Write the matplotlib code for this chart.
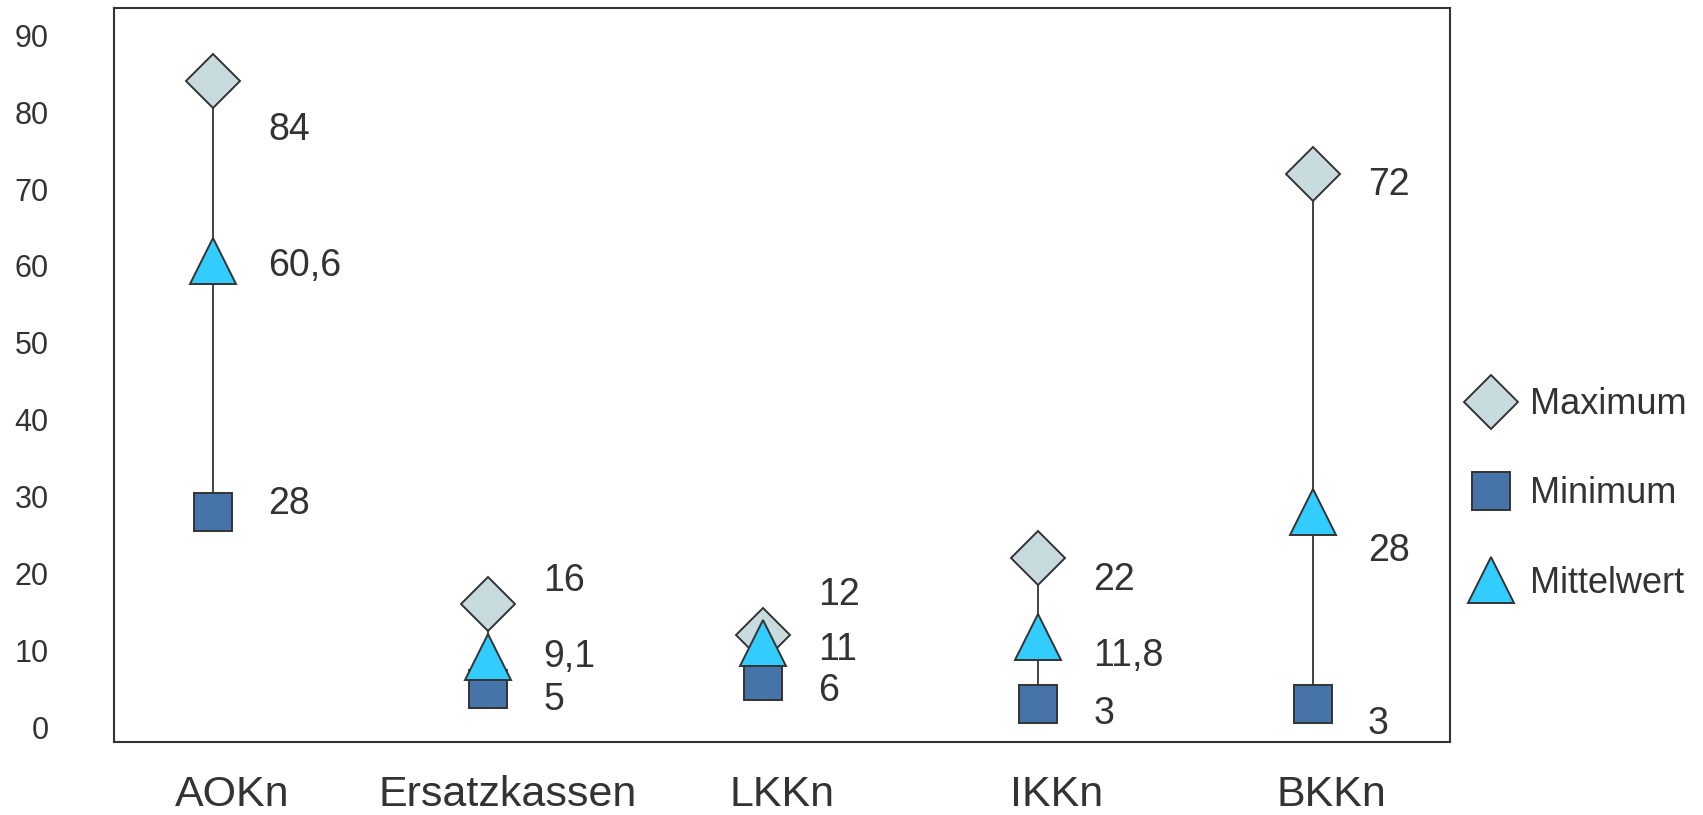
import matplotlib
matplotlib.use("Agg")
import matplotlib.pyplot as plt
from matplotlib.lines import Line2D

plt.rcParams["font.family"] = ["Liberation Sans", "DejaVu Sans"]

categories = ["AOKn", "Ersatzkassen", "LKKn", "IKKn", "BKKn"]
maximum = [84, 16, 12, 22, 72]
minimum = [28, 5, 6, 3, 3]
mittelwert = [60.6, 9.1, 11, 11.8, 28]

# vertical nudges (points) for the value labels, as placed in the original
nudge_max = [-35, 17, 29, -16, -8]
nudge_avg = [-3, 0, -5, -14, -28]
nudge_min = [6, -8, -7, -7, -14]

TXT = "#333333"
EDGE = "#333333"
C_MAX, C_MIN, C_AVG = "#C8DCE0", "#4673A8", "#33CCFF"


def fmt(v):
    return f"{v:g}".replace(".", ",")


fig = plt.figure(figsize=(17.03, 8.15), dpi=100)
ax = fig.add_axes([0.067, 0.0896, 0.7844, 0.9011])

x = [i - 0.07 for i in range(len(categories))]
ax.vlines(x, minimum, maximum, color=EDGE, lw=1.3, zorder=2)
ax.plot(x, maximum, "D", ms=28, mfc=C_MAX, mec=EDGE, mew=1.4, ls="none", zorder=3)
ax.plot(x, minimum, "s", ms=28, mfc=C_MIN, mec=EDGE, mew=1.4, ls="none", zorder=3)
ax.plot(x, mittelwert, "^", ms=33, mfc=C_AVG, mec=EDGE, mew=1.4, ls="none", zorder=4)

for series, nudges in ((maximum, nudge_max), (minimum, nudge_min), (mittelwert, nudge_avg)):
    for xi, v, dy in zip(x, series, nudges):
        ax.annotate(fmt(v), (xi, v), xytext=(40, dy), textcoords="offset points",
                    ha="left", va="center", fontsize=27, color=TXT, zorder=5)

ax.set_xlim(-0.43, 4.43)
ax.set_ylim(-1.9, 93.6)
ax.set_yticks(range(0, 91, 10))
ax.set_xticks(range(len(categories)))
ax.set_xticklabels(categories)
ax.tick_params(axis="y", length=0, pad=47, labelsize=22, labelcolor=TXT)
ax.tick_params(axis="x", length=0, pad=24, labelsize=31, labelcolor=TXT)
for s in ax.spines.values():
    s.set_color(EDGE)
    s.set_linewidth(1.5)

handles = [
    Line2D([], [], marker="D", ms=28, mfc=C_MAX, mec=EDGE, mew=1.4, ls="none", label="Maximum"),
    Line2D([], [], marker="s", ms=28, mfc=C_MIN, mec=EDGE, mew=1.4, ls="none", label="Minimum"),
    Line2D([], [], marker="^", ms=33, mfc=C_AVG, mec=EDGE, mew=1.4, ls="none", label="Mittelwert"),
]
fig.legend(handles=handles, loc="center left", bbox_to_anchor=(0.852, 0.394),
           frameon=False, fontsize=26, labelcolor=TXT, labelspacing=1.5,
           handlelength=1.2, handletextpad=0.5, borderpad=0)

fig.savefig("out.png", dpi=100)
